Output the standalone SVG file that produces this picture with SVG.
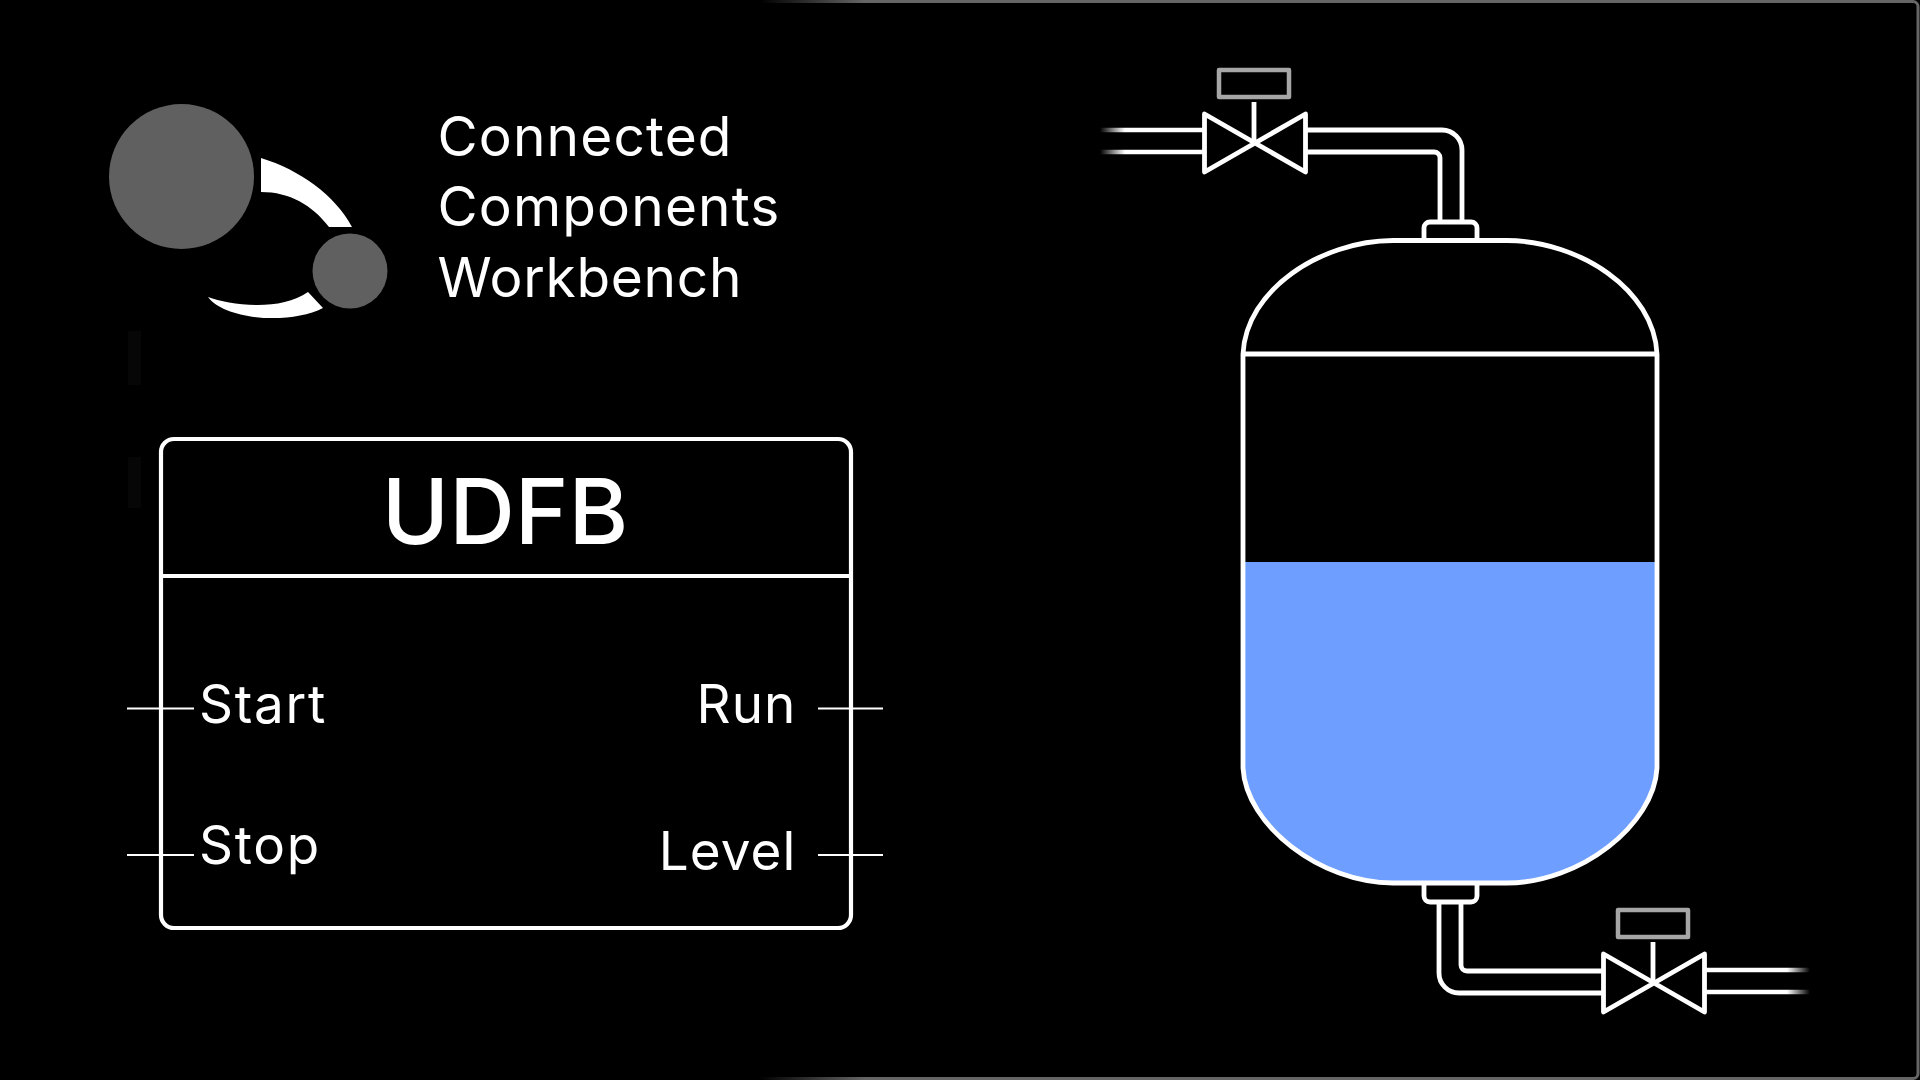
<svg xmlns="http://www.w3.org/2000/svg" width="1920" height="1080" viewBox="0 0 1920 1080">
  <style>
    text { font-family: "Inter", "Liberation Sans", sans-serif; fill: #fff; }
    .title { font-size: 55px; letter-spacing: 1.15px; }
    .port { font-size: 53px; letter-spacing: 1.7px; }
    .tight { letter-spacing: 1.1px; }
    .head { font-size: 91px; font-weight: 500; }
    .ln { fill: none; stroke: #fff; stroke-width: 4.800; stroke-linejoin: round; }
    .box { fill: none; stroke: #fff; stroke-width: 4.200; }
    .thin { stroke: #fff; stroke-width: 2; fill: none; }
    .act { fill: none; stroke: #a6a6a6; stroke-width: 4.500; stroke-linejoin: round; }
    .logo { fill: #606060; }
  </style>
  <defs>
    <linearGradient id="edge" gradientUnits="userSpaceOnUse" x1="760" y1="0" x2="865" y2="0">
      <stop offset="0" stop-color="#666" stop-opacity="0"/>
      <stop offset="1" stop-color="#666"/>
    </linearGradient>
    <linearGradient id="fadeL" gradientUnits="userSpaceOnUse" x1="1100" y1="0" x2="1125" y2="0">
      <stop offset="0" stop-color="#fff" stop-opacity="0"/>
      <stop offset="1" stop-color="#fff"/>
    </linearGradient>
    <linearGradient id="fadeR" gradientUnits="userSpaceOnUse" x1="1787" y1="0" x2="1810" y2="0">
      <stop offset="0" stop-color="#fff"/>
      <stop offset="1" stop-color="#fff" stop-opacity="0"/>
    </linearGradient>
  </defs>
  <rect width="1920" height="1080" fill="#000"/>
  <path d="M760 1.500H1913a5 5 0 0 1 5 5V1073.500a5 5 0 0 1-5 5H760" fill="none" stroke="url(#edge)" stroke-width="3"/>
  <rect x="128" y="331" width="13" height="54" fill="#060606"/>
  <rect x="128" y="457" width="13" height="51" fill="#060606"/>

  <g id="logo">
    <circle class="logo" cx="181.500" cy="176.500" r="72.500"/>
    <circle class="logo" cx="350" cy="271" r="37.500"/>
    <path fill="#fff" d="M261 158C300 170 335 195 352 227H329C312 205 290 192 261 192Z"/>
    <path fill="#fff" d="M208 297C230 305 280 312 308 292L323 308C290 325 225 320 208 297Z"/>
  </g>
  <g id="title">
    <text class="title" x="437.500" y="156">Connected</text>
    <text class="title" x="437.500" y="226">Components</text>
    <text class="title" x="437.500" y="297" style="letter-spacing:.7px">Workbench</text>
  </g>

  <g id="udfb">
    <rect class="box" x="161" y="439" width="690" height="489" rx="13"/>
    <path class="box" d="M161 576H851"/>
    <text class="head" x="505" y="544" text-anchor="middle">UDFB</text>
    <text class="port" x="199" y="723">Start</text>
    <text class="port" x="199" y="864">Stop</text>
    <text class="port tight" x="796.500" y="723" text-anchor="end">Run</text>
    <text class="port tight" x="796.500" y="870" text-anchor="end">Level</text>
  </g>

  <g id="tank">
    <path fill="#6e9eff" d="M1243 562H1657V768C1654 825 1580 883 1507 883H1393C1320 883 1246 825 1243 768Z"/>
    <path class="ln" d="M1243 354C1246 290 1320 241 1393 240.500H1507C1580 241 1654 290 1657 354V768C1654 825 1580 883 1507 883H1393C1320 883 1246 825 1243 768Z"/>
    <path class="ln" d="M1243 354H1657"/>
    <path class="ln" d="M1424 239V228a6 6 0 0 1 6-6H1471a6 6 0 0 1 6 6V239"/>
    <path class="ln" d="M1424 885V896a6 6 0 0 0 6 6H1471a6 6 0 0 0 6-6V885"/>
  </g>

  <g id="valve-top">
    <rect class="act" x="1219" y="70" width="70" height="27"/>
    <path class="ln" d="M1254 102V143"/>
    <path class="ln" d="M1204.500 114L1305.500 172V114L1204.500 172Z"/>
  </g>
  <g id="valve-bottom">
    <rect class="act" x="1618" y="910" width="70" height="27"/>
    <path class="ln" d="M1653 942V983"/>
    <path class="ln" d="M1603.500 954L1704.500 1012V954L1603.500 1012Z"/>
  </g>

  <g id="connectors">
    <path class="thin" d="M127 708.500H194M127 855H194M818 708.500H883M818 855H883"/>
    <path d="M1100 130H1205M1100 152H1205" fill="none" stroke="url(#fadeL)" stroke-width="4.500"/>
    <path class="ln" d="M1305 130H1442a20 20 0 0 1 20 20V222"/>
    <path class="ln" d="M1305 152H1434a6 6 0 0 1 6 6V222"/>
    <path class="ln" d="M1439 902V973a20 20 0 0 0 20 20H1604"/>
    <path class="ln" d="M1461 902V965a6 6 0 0 0 6 6H1604"/>
    <path d="M1704 970H1810M1704 992H1810" fill="none" stroke="url(#fadeR)" stroke-width="4.500"/>
  </g>
</svg>
